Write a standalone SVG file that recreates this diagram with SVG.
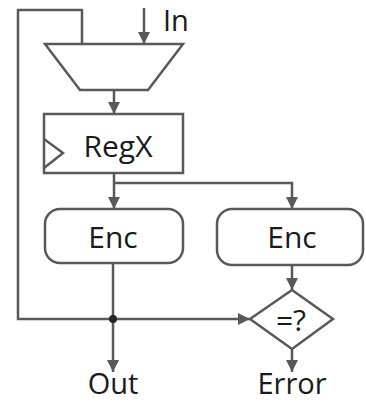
<svg xmlns="http://www.w3.org/2000/svg" width="366" height="403" viewBox="0 0 366 403">
  <defs>
    <marker id="arrow" viewBox="0 0 12 12" refX="12" refY="6" markerWidth="12" markerHeight="12" markerUnits="userSpaceOnUse" orient="auto">
      <path d="M0,0 L12,6 L0,12 Z" fill="#595959"/>
    </marker>
  </defs>
  <style>
    .shape { fill: #ffffff; stroke: #595959; stroke-width: 2.5; }
    .wire { fill: none; stroke: #595959; stroke-width: 2.5; }
    .label { font-family: "Open Sans", "Liberation Sans", sans-serif; font-size: 30px; fill: #1a1a1a; text-anchor: middle; }
    .edge { font-size: 29px; }
  </style>

  <g id="connectors">
    <!-- feedback loop from the comparator line back into the mux -->
    <path class="wire" d="M113,319 L18,319 L18,10 L82,10 L82,44"/>
    <!-- input -->
    <path class="wire" d="M144,8 L144,44" marker-end="url(#arrow)"/>
    <!-- mux to register -->
    <path class="wire" d="M114,90 L114,114" marker-end="url(#arrow)"/>
    <!-- register to first encoder -->
    <path class="wire" d="M114,173 L114,209" marker-end="url(#arrow)"/>
    <!-- register to second encoder -->
    <path class="wire" d="M114,183 L292,183 L292,209" marker-end="url(#arrow)"/>
    <!-- first encoder down to the junction -->
    <path class="wire" d="M113,263 L113,319"/>
    <!-- junction to output -->
    <path class="wire" d="M113,319 L113,372" marker-end="url(#arrow)"/>
    <!-- junction to comparator -->
    <path class="wire" d="M113,319 L250,319" marker-end="url(#arrow)"/>
    <!-- second encoder to comparator -->
    <path class="wire" d="M292,265 L292,290" marker-end="url(#arrow)"/>
    <!-- comparator to error -->
    <path class="wire" d="M292,349 L292,372" marker-end="url(#arrow)"/>
    <circle cx="113" cy="319" r="4" fill="#262626"/>
  </g>

  <g id="mux">
    <polygon class="shape" points="45,44 183,44 148,90 80,90"/>
  </g>

  <g id="in-label">
    <text class="label edge" x="163" y="31" style="text-anchor:start">In</text>
  </g>

  <g id="regx">
    <rect class="shape" x="44" y="114" width="139" height="59"/>
    <polyline class="wire" points="44,139 63,153 44,168"/>
    <text class="label" x="118" y="157">RegX</text>
  </g>

  <g id="enc1">
    <rect class="shape" x="45" y="209" width="138" height="54" rx="15" ry="15"/>
    <text class="label" x="113" y="248">Enc</text>
  </g>

  <g id="enc2">
    <rect class="shape" x="217" y="209" width="146" height="56" rx="15" ry="15"/>
    <text class="label" x="292" y="248">Enc</text>
  </g>

  <g id="compare">
    <polygon class="shape" points="292,290 333,319 292,349 250,319"/>
    <text class="label" x="291" y="331">=?</text>
  </g>

  <g id="out-label">
    <text class="label edge" x="113" y="394">Out</text>
  </g>

  <g id="error-label">
    <text class="label edge" x="292" y="394">Error</text>
  </g>
</svg>
